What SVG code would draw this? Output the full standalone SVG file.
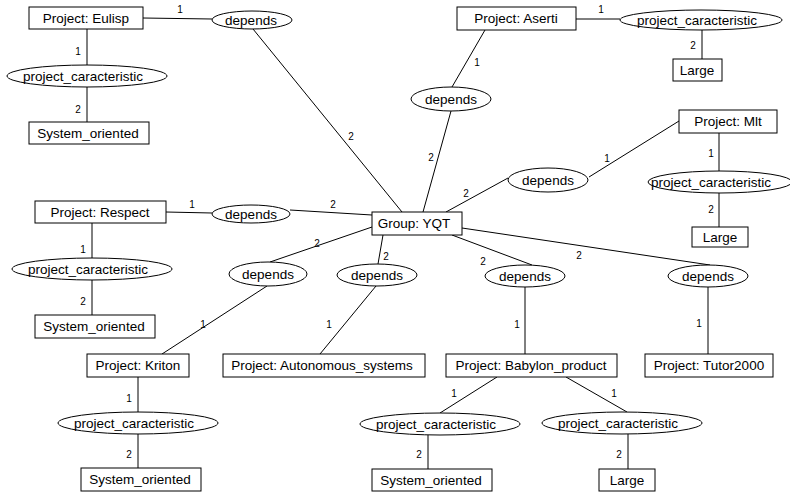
<svg xmlns="http://www.w3.org/2000/svg" width="790" height="492" viewBox="0 0 790 492">
<style>
.b{fill:#fff;stroke:#000;stroke-width:1}
.t{font-family:"Liberation Sans",Arial,sans-serif;font-size:13.5px;fill:#000;text-anchor:middle}
.n{font-family:"Liberation Sans",Arial,sans-serif;font-size:10px;fill:#000;text-anchor:middle}
#connectors line{stroke:#000;stroke-width:1}
</style>
<rect width="790" height="492" fill="#fff"/>
<g id="connectors">
<line x1="143" y1="18" x2="212" y2="19"/>
<line x1="253" y1="29" x2="402" y2="212"/>
<line x1="87" y1="29" x2="87" y2="65"/>
<line x1="87" y1="87" x2="87" y2="122"/>
<line x1="485" y1="30" x2="452" y2="87"/>
<line x1="451" y1="111" x2="423" y2="212"/>
<line x1="576" y1="19" x2="620" y2="19"/>
<line x1="702" y1="30" x2="702" y2="59"/>
<line x1="679" y1="121" x2="589" y2="177"/>
<line x1="508" y1="178" x2="446" y2="212"/>
<line x1="719" y1="133" x2="719" y2="171"/>
<line x1="719" y1="193" x2="719" y2="227"/>
<line x1="166" y1="212" x2="212" y2="213"/>
<line x1="290" y1="210" x2="372" y2="215"/>
<line x1="92" y1="223" x2="92" y2="258"/>
<line x1="92" y1="280" x2="92" y2="315"/>
<line x1="372" y1="227" x2="270" y2="262"/>
<line x1="267" y1="286" x2="162" y2="354"/>
<line x1="383" y1="235" x2="378" y2="264"/>
<line x1="376" y1="286" x2="320" y2="354"/>
<line x1="452" y1="235" x2="532" y2="265"/>
<line x1="525" y1="287" x2="525" y2="354"/>
<line x1="462" y1="228" x2="710" y2="265"/>
<line x1="708" y1="287" x2="708" y2="354"/>
<line x1="138" y1="377" x2="138" y2="412"/>
<line x1="138" y1="434" x2="138" y2="468"/>
<line x1="497" y1="377" x2="440" y2="413"/>
<line x1="428" y1="435" x2="428" y2="469"/>
<line x1="566" y1="377" x2="627" y2="412"/>
<line x1="628" y1="434" x2="628" y2="469"/>
<g id="cardinalities">
<text class="n" x="180" y="13">1</text>
<text class="n" x="351" y="140">2</text>
<text class="n" x="78" y="55">1</text>
<text class="n" x="78" y="113">2</text>
<text class="n" x="477" y="66">1</text>
<text class="n" x="431" y="161">2</text>
<text class="n" x="601" y="13">1</text>
<text class="n" x="693" y="49">2</text>
<text class="n" x="607" y="162">1</text>
<text class="n" x="466" y="197">2</text>
<text class="n" x="711" y="157">1</text>
<text class="n" x="711" y="213">2</text>
<text class="n" x="192" y="208">1</text>
<text class="n" x="333" y="208">2</text>
<text class="n" x="83" y="253">1</text>
<text class="n" x="83" y="305">2</text>
<text class="n" x="317" y="247">2</text>
<text class="n" x="203" y="328">1</text>
<text class="n" x="386" y="260">2</text>
<text class="n" x="329" y="328">1</text>
<text class="n" x="483" y="265">2</text>
<text class="n" x="517" y="328">1</text>
<text class="n" x="579" y="259">2</text>
<text class="n" x="699" y="327">1</text>
<text class="n" x="129" y="402">1</text>
<text class="n" x="129" y="458">2</text>
<text class="n" x="454" y="397">1</text>
<text class="n" x="419" y="458">2</text>
<text class="n" x="614" y="397">1</text>
<text class="n" x="619" y="458">2</text>
</g>
</g>
<g id="eulisp"><rect class="b" x="29" y="7" width="114" height="22"/><text class="t" x="86" y="23">Project: Eulisp</text></g>
<g id="sysor1"><rect class="b" x="29" y="122" width="120" height="22"/><text class="t" x="88" y="138">System_oriented</text></g>
<g id="aserti"><rect class="b" x="457" y="7" width="119" height="23"/><text class="t" x="516" y="23">Project: Aserti</text></g>
<g id="large1"><rect class="b" x="673" y="59" width="49" height="22"/><text class="t" x="697" y="75">Large</text></g>
<g id="mlt"><rect class="b" x="679" y="110" width="98" height="23"/><text class="t" x="728" y="126">Project: Mlt</text></g>
<g id="large2"><rect class="b" x="692" y="227" width="56" height="20"/><text class="t" x="720" y="242">Large</text></g>
<g id="respect"><rect class="b" x="35" y="201" width="131" height="22"/><text class="t" x="100" y="217">Project: Respect</text></g>
<g id="sysor2"><rect class="b" x="35" y="315" width="120" height="23"/><text class="t" x="94" y="331">System_oriented</text></g>
<g id="yqt"><rect class="b" x="372" y="212" width="90" height="23"/><text class="t" x="414" y="228">Group: YQT</text></g>
<g id="kriton"><rect class="b" x="87" y="354" width="102" height="23"/><text class="t" x="138" y="370">Project: Kriton</text></g>
<g id="autonomous"><rect class="b" x="223" y="354" width="202" height="23"/><text class="t" x="322" y="370">Project: Autonomous_systems</text></g>
<g id="babylon"><rect class="b" x="446" y="354" width="171" height="23"/><text class="t" x="531" y="370">Project: Babylon_product</text></g>
<g id="tutor"><rect class="b" x="645" y="354" width="128" height="23"/><text class="t" x="709" y="370">Project: Tutor2000</text></g>
<g id="sysor3"><rect class="b" x="81" y="468" width="120" height="23"/><text class="t" x="140" y="484">System_oriented</text></g>
<g id="sysor4"><rect class="b" x="372" y="469" width="120" height="22"/><text class="t" x="431" y="485">System_oriented</text></g>
<g id="large3"><rect class="b" x="599" y="469" width="56" height="22"/><text class="t" x="627" y="485">Large</text></g>
<g id="dep-eulisp"><ellipse class="b" cx="252" cy="20" rx="40" ry="9"/><text class="t" x="251" y="25">depends</text></g>
<g id="pc-eulisp"><ellipse class="b" cx="87" cy="76" rx="80" ry="11"/><text class="t" x="83" y="81">project_caracteristic</text></g>
<g id="dep-aserti"><ellipse class="b" cx="451" cy="99" rx="40" ry="12"/><text class="t" x="451" y="104">depends</text></g>
<g id="pc-aserti"><ellipse class="b" cx="701" cy="20" rx="81" ry="10"/><text class="t" x="697" y="25">project_caracteristic</text></g>
<g id="dep-mlt"><ellipse class="b" cx="548" cy="180" rx="40" ry="12"/><text class="t" x="548" y="185">depends</text></g>
<g id="pc-mlt"><ellipse class="b" cx="720" cy="182" rx="72" ry="11"/><text class="t" x="711" y="187">project_caracteristic</text></g>
<g id="dep-respect"><ellipse class="b" cx="251" cy="214" rx="39" ry="9"/><text class="t" x="251" y="219">depends</text></g>
<g id="pc-respect"><ellipse class="b" cx="92" cy="269" rx="80" ry="11"/><text class="t" x="88" y="274">project_caracteristic</text></g>
<g id="dep-kriton"><ellipse class="b" cx="268" cy="274" rx="39" ry="12"/><text class="t" x="268" y="279">depends</text></g>
<g id="dep-autonomous"><ellipse class="b" cx="377" cy="275" rx="40" ry="11"/><text class="t" x="377" y="280">depends</text></g>
<g id="dep-babylon"><ellipse class="b" cx="525" cy="276" rx="40" ry="11"/><text class="t" x="525" y="281">depends</text></g>
<g id="dep-tutor"><ellipse class="b" cx="708" cy="276" rx="40" ry="11"/><text class="t" x="708" y="281">depends</text></g>
<g id="pc-kriton"><ellipse class="b" cx="138" cy="423" rx="80" ry="11"/><text class="t" x="134" y="428">project_caracteristic</text></g>
<g id="pc-babylon1"><ellipse class="b" cx="440" cy="424" rx="80" ry="11"/><text class="t" x="436" y="429">project_caracteristic</text></g>
<g id="pc-babylon2"><ellipse class="b" cx="622" cy="423" rx="80" ry="11"/><text class="t" x="618" y="428">project_caracteristic</text></g>
</svg>
